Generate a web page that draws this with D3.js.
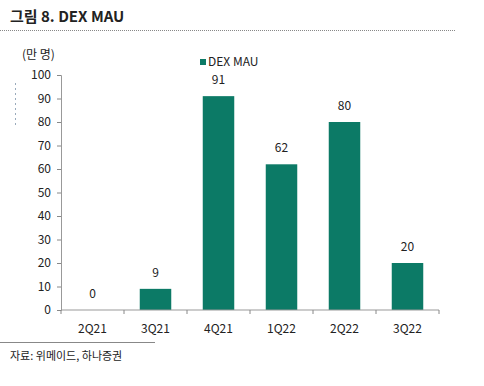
<!DOCTYPE html>
<html>
<head>
<meta charset="utf-8">
<script src="https://cdn.jsdelivr.net/npm/d3@7"></script>
<style>
  body { margin: 0; background: #fff; }
  text { font-family: "Noto Sans CJK KR", "Noto Sans", sans-serif; fill: #222; }
</style>
</head>
<body>
<div id="chart"></div>
<script>
// data
var quarters = ["2Q21", "3Q21", "4Q21", "1Q22", "2Q22", "3Q22"];
var mau = [0, 9, 91, 62, 80, 20];
var yTicks = [0, 10, 20, 30, 40, 50, 60, 70, 80, 90, 100];

var width = 484, height = 386;
var margin = {top: 75, right: 45, bottom: 76, left: 61};

var svg = d3.select("#chart").append("svg")
    .attr("width", width)
    .attr("height", height);

// title + rules
svg.append("text")
    .attr("x", 10).attr("y", 22)
    .style("font-size", "15px")
    .style("font-weight", "bold")
    .text("그림 8. DEX MAU");

svg.append("line")
    .attr("x1", 0).attr("x2", 455)
    .attr("y1", 30.5).attr("y2", 30.5)
    .style("stroke", "#888")
    .style("stroke-dasharray", "1,1");

svg.append("line")
    .attr("x1", 0).attr("x2", 155)
    .attr("y1", 342.5).attr("y2", 342.5)
    .style("stroke", "#888");

svg.append("text")
    .attr("x", 10).attr("y", 360)
    .style("font-size", "11px")
    .text("자료: 위메이드, 하나증권");

// odd dotted mark on the left
svg.append("line")
    .attr("x1", 15.5).attr("x2", 15.5)
    .attr("y1", 83).attr("y2", 126)
    .style("stroke", "#9ab")
    .style("stroke-dasharray", "2,3");

var x = d3.scaleBand()
    .domain(quarters)
    .range([margin.left, width - margin.right])
    .paddingInner(0.5)
    .paddingOuter(0.25);

var y = d3.scaleLinear()
    .domain([0, 100])
    .range([310, margin.top]);

var g = svg.append("g");

// y axis
var yAxis = g.append("g")
    .attr("transform", "translate(" + margin.left + ",0)")
    .call(d3.axisLeft(y).tickValues(yTicks).tickSize(4).tickPadding(6));
yAxis.select(".domain").style("stroke", "#999");
yAxis.selectAll(".tick line").style("stroke", "#888");
yAxis.selectAll(".tick text").style("font-size", "12px").attr("fill", "#222");

svg.append("text")
    .attr("x", 22).attr("y", 59)
    .style("font-size", "12px")
    .text("(만 명)");

// bars
g.selectAll(".bar")
    .data(mau)
    .enter().append("rect")
    .attr("class", "bar")
    .attr("x", function(d, i) { return x(quarters[i]); })
    .attr("width", x.bandwidth())
    .attr("y", function(d) { return y(d); })
    .attr("height", function(d) { return y(0) - y(d); })
    .style("fill", "#0c7a66");

g.selectAll(".val")
    .data(mau)
    .enter().append("text")
    .attr("class", "val")
    .attr("x", function(d, i) { return x(quarters[i]) + x.bandwidth() / 2; })
    .attr("y", function(d) { return y(d) - 12; })
    .attr("text-anchor", "middle")
    .style("font-size", "12px")
    .text(function(d) { return d; });

// x axis with ticks between categories
var xAxis = g.append("g")
    .attr("transform", "translate(0," + y(0) + ")");
xAxis.append("line")
    .attr("x1", margin.left).attr("x2", width - margin.right)
    .style("stroke", "#999");
var bounds = d3.range(quarters.length + 1).map(function(i) {
  return margin.left + i * (width - margin.left - margin.right) / quarters.length;
});
xAxis.selectAll(".xt")
    .data(bounds)
    .enter().append("line")
    .attr("x1", function(d) { return d; }).attr("x2", function(d) { return d; })
    .attr("y1", 0).attr("y2", 4)
    .style("stroke", "#888");
xAxis.selectAll(".xl")
    .data(quarters)
    .enter().append("text")
    .attr("x", function(d) { return x(d) + x.bandwidth() / 2; })
    .attr("y", 23)
    .attr("text-anchor", "middle")
    .style("font-size", "12px")
    .text(function(d) { return d; });

// legend
svg.append("rect")
    .attr("x", 200).attr("y", 59)
    .attr("width", 6).attr("height", 6)
    .style("fill", "#0c7a66");
svg.append("text")
    .attr("x", 208).attr("y", 66)
    .style("font-size", "12px")
    .text("DEX MAU");
</script>
</body>
</html>
